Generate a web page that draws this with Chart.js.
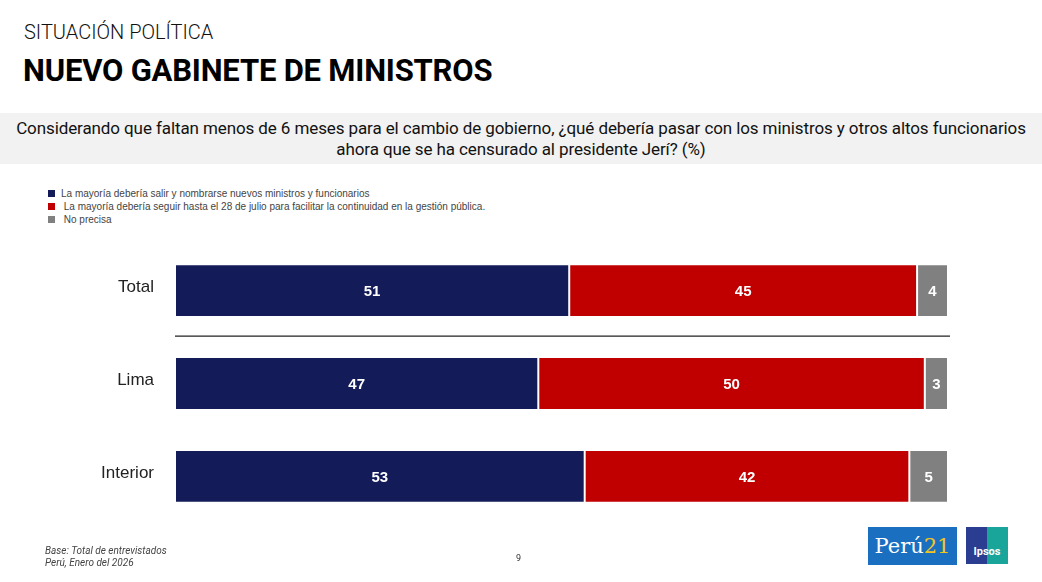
<!DOCTYPE html>
<html lang="es">
<head>
    <meta charset="UTF-8">
    <title>Nuevo gabinete de ministros</title>
    <style>
        body {
            margin: 0;
            width: 1042px;
            height: 582px;
            background: #fff;
            font-family: Roboto, Arial, sans-serif;
            position: relative;
            overflow: hidden;
        }
        .kicker {
            position: absolute; left: 24px; top: 20px;
            font-size: 20px; font-weight: 300; color: #111;
        }
        h1 {
            position: absolute; left: 23px; top: 52px; margin: 0;
            font-size: 31px; font-weight: 700; color: #000; letter-spacing: -0.2px;
        }
        .question {
            position: absolute; left: 0; top: 113px; width: 1042px; height: 51px;
            background: #f2f2f2; text-align: center;
            font-size: 17px; line-height: 21px; color: #111; padding-top: 5px; box-sizing: border-box;
            letter-spacing: -0.1px;
        }
        .legend {
            position: absolute; left: 48px; top: 187px;
            font-family: Arial, "Liberation Sans", sans-serif; font-size: 10px; color: #444;
        }
        .legend div { height: 13px; line-height: 13px; }
        .legend span {
            display: inline-block; width: 7px; height: 7px; margin-right: 6px; vertical-align: 0px;
        }
        #chart {
            position: absolute; left: 0; top: 221px;
        }
        .foot {
            position: absolute; left: 45px; top: 545px;
            font-size: 10px; font-style: italic; color: #444; line-height: 12px;
        }
        .page {
            position: absolute; left: 516px; top: 553px; font-size: 9px; color: #333;
        }
        .peru {
            position: absolute; left: 868px; top: 527px; width: 89px; height: 38px;
            background: #1a6fc0; color: #fff; font-family: "DejaVu Serif", serif;
            font-size: 21px; line-height: 38px; text-align: center;
        }
        .peru b { color: #f5c51a; font-weight: normal; }
        .ipsos {
            position: absolute; left: 966px; top: 527px; width: 42px; height: 37px;
            background: linear-gradient(90deg, #2a3d91 50%, #1aa59a 50%); color: #fff;
            font-size: 11px; font-weight: bold; text-align: center; line-height: 50px;
        }
    </style>
</head>
<body>
    <div class="kicker">SITUACIÓN POLÍTICA</div>
    <h1>NUEVO GABINETE DE MINISTROS</h1>
    <div class="question">Considerando que faltan menos de 6 meses para el cambio de gobierno, ¿qué debería pasar con los ministros y otros altos funcionarios<br>ahora que se ha censurado al presidente Jerí? (%)</div>

    <div class="legend" id="legend"></div>

    <canvas id="chart" width="1042" height="325"></canvas>

    <div class="foot">Base: Total de entrevistados<br>Perú, Enero del 2026</div>
    <div class="page">9</div>
    <div class="peru">Perú<b>21</b></div>
    <div class="ipsos">Ipsos</div>

    <script src="https://cdn.jsdelivr.net/npm/chart.js"></script>
    <script>
        const categories = ['Total', 'Lima', 'Interior'];
        const seriesNames = [
            'La mayoría debería salir y nombrarse nuevos ministros y funcionarios',
            ' La mayoría debería seguir hasta el 28 de julio para facilitar la continuidad en la gestión pública.',
            ' No precisa'
        ];
        const salir = [51, 47, 53];
        const seguir = [45, 50, 42];
        const noPrecisa = [4, 3, 5];
        const colors = ['#131b58', '#c00000', '#808080'];

        // leyenda en HTML
        const legendEl = document.getElementById('legend');
        seriesNames.forEach((name, i) => {
            const row = document.createElement('div');
            const sw = document.createElement('span');
            sw.style.background = colors[i];
            row.appendChild(sw);
            row.appendChild(document.createTextNode(name));
            legendEl.appendChild(row);
        });

        // etiquetas blancas dentro de cada segmento
        const valueLabels = {
            id: 'valueLabels',
            afterDatasetsDraw(chart) {
                const ctx = chart.ctx;
                ctx.save();
                ctx.fillStyle = '#fff';
                ctx.font = 'bold 15px Arial, "Liberation Sans", sans-serif';
                ctx.textAlign = 'center';
                ctx.textBaseline = 'middle';
                chart.data.datasets.forEach((ds, i) => {
                    chart.getDatasetMeta(i).data.forEach((bar, j) => {
                        const p = bar.getProps(['x', 'y', 'base'], true);
                        ctx.fillText(ds.data[j], (p.x + p.base) / 2, p.y + 1);
                    });
                });
                ctx.restore();
            }
        };

        // línea separadora debajo de "Total"
        const separator = {
            id: 'separator',
            afterDraw(chart) {
                const y = chart.scales.y.getPixelForValue(0.5) - 1;
                const ctx = chart.ctx;
                ctx.save();
                ctx.strokeStyle = '#222';
                ctx.lineWidth = 1.2;
                ctx.beginPath();
                ctx.moveTo(chart.chartArea.left, y);
                ctx.lineTo(chart.chartArea.right + 2, y);
                ctx.stroke();
                ctx.restore();
            }
        };

        const makeDs = (label, data, color) => ({
            label: label,
            data: data,
            backgroundColor: color,
            borderColor: 'rgba(255,255,255,0.35)',
            borderWidth: 1,
            borderSkipped: false,
            categoryPercentage: 1,
            barPercentage: 0.57
        });

        new Chart(document.getElementById('chart'), {
            type: 'bar',
            data: {
                labels: categories,
                datasets: [
                    makeDs(seriesNames[0], salir, colors[0]),
                    makeDs(seriesNames[1], seguir, colors[1]),
                    makeDs(seriesNames[2], noPrecisa, colors[2])
                ]
            },
            options: {
                indexAxis: 'y',
                responsive: false,
                animation: false,
                layout: { padding: { left: 0, right: 94, top: 6, bottom: 7 } },
                plugins: {
                    legend: { display: false },
                    tooltip: { enabled: false }
                },
                scales: {
                    x: {
                        stacked: true,
                        min: 0,
                        max: 100,
                        display: false
                    },
                    y: {
                        stacked: true,
                        grid: { display: false },
                        border: { display: false },
                        afterFit(scale) { scale.width = 175; },
                        ticks: {
                            padding: 13,
                            labelOffset: -3,
                            color: '#222',
                            font: { family: 'Arial, "Liberation Sans", sans-serif', size: 17 }
                        }
                    }
                }
            },
            plugins: [valueLabels, separator]
        });
    </script>
</body>
</html>
